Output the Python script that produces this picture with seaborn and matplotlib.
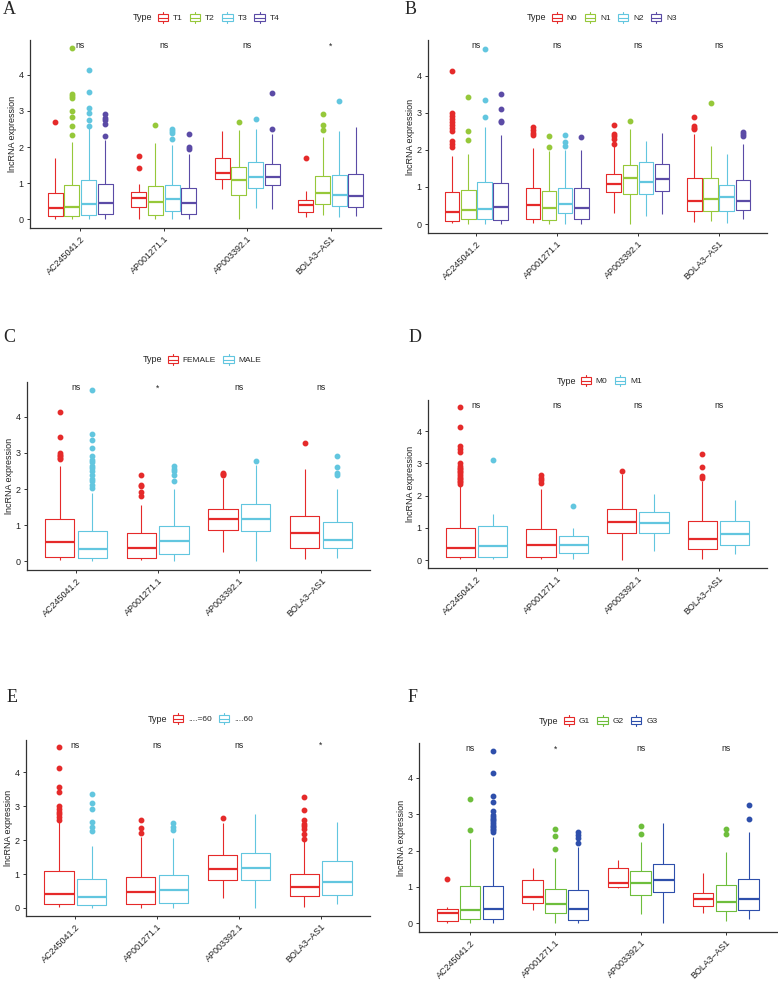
import pandas as pd
import matplotlib
matplotlib.use("Agg")
import matplotlib.pyplot as plt
from matplotlib.patches import Rectangle
from matplotlib.lines import Line2D
from matplotlib.legend_handler import HandlerBase
import seaborn as sns

genes = ["AC245041.2", "AP001271.1", "AP003392.1", "BOLA3\u2212AS1"]

# ---- panel A : T stage ----
A_groups = ["T1", "T2", "T3", "T4"]
A_colors = ["#E52A2A", "#96C83A", "#62C6DF", "#5B4BA6"]
A_sig = ["ns", "ns", "ns", "*"]
A_lo = [[0.02, 0.00, 0.00, 0.00], [0.02, 0.00, 0.00, 0.00], [0.84, 0.00, 0.31, 0.28], [0.06, 0.13, 0.06, 0.09]]
A_q1 = [[0.09, 0.08, 0.11, 0.16], [0.33, 0.11, 0.22, 0.16], [1.12, 0.67, 0.86, 0.94], [0.19, 0.42, 0.37, 0.33]]
A_med = [[0.31, 0.35, 0.43, 0.44], [0.58, 0.48, 0.56, 0.45], [1.28, 1.09, 1.16, 1.18], [0.39, 0.73, 0.68, 0.65]]
A_q3 = [[0.74, 0.94, 1.10, 0.98], [0.76, 0.91, 0.96, 0.86], [1.70, 1.46, 1.58, 1.52], [0.53, 1.19, 1.22, 1.25]]
A_hi = [[1.70, 2.15, 2.54, 2.19], [0.97, 2.10, 2.06, 1.80], [2.44, 2.47, 2.50, 2.37], [0.79, 2.27, 2.45, 2.55]]
A_out = [
    [[2.70], [2.34, 2.59, 2.83, 2.99, 3.35, 3.41, 3.46, 4.73], [2.59, 2.75, 2.93, 3.09, 3.51, 4.13], [2.31, 2.65, 2.75, 2.81, 2.92]],
    [[1.43, 1.76], [2.61], [2.21, 2.38, 2.44, 2.51], [1.95, 2.01, 2.35]],
    [[], [2.68], [2.78], [2.49, 3.49]],
    [[1.69], [2.46, 2.61, 2.90], [3.28], []],
]

# ---- panel B : N stage ----
B_groups = ["N0", "N1", "N2", "N3"]
B_colors = A_colors
B_sig = ["ns", "ns", "ns", "ns"]
B_lo = [[0.04, 0.00, 0.00, 0.00], [0.04, 0.00, 0.00, 0.00], [0.29, 0.00, 0.21, 0.27], [0.06, 0.07, 0.04, 0.13]]
B_q1 = [[0.09, 0.13, 0.14, 0.12], [0.13, 0.11, 0.29, 0.14], [0.86, 0.82, 0.80, 0.88], [0.36, 0.34, 0.34, 0.39]]
B_med = [[0.32, 0.39, 0.41, 0.47], [0.52, 0.43, 0.55, 0.43], [1.07, 1.23, 1.14, 1.21], [0.62, 0.68, 0.73, 0.63]]
B_q3 = [[0.87, 0.91, 1.14, 1.12], [0.97, 0.89, 0.98, 0.96], [1.36, 1.58, 1.66, 1.63], [1.23, 1.23, 1.06, 1.18]]
B_hi = [[1.83, 1.90, 2.62, 2.39], [2.06, 1.97, 1.99, 2.00], [2.10, 2.55, 2.24, 2.46], [2.44, 2.10, 1.89, 2.17]]
B_out = [
    [[2.08, 2.15, 2.24, 2.52, 2.60, 2.68, 2.75, 2.82, 2.90, 2.98, 4.12], [2.27, 2.51, 3.43], [2.89, 3.34, 4.72], [2.75, 2.78, 3.10, 3.50]],
    [[2.39, 2.46, 2.53, 2.61], [2.08, 2.37], [2.10, 2.22, 2.41], [2.34]],
    [[2.17, 2.28, 2.37, 2.44, 2.67], [2.78], [], []],
    [[2.55, 2.60, 2.64, 2.89], [3.27], [], [2.38, 2.42, 2.47]],
]

# ---- panel C : gender ----
C_groups = ["FEMALE", "MALE"]
C_colors = ["#E52A2A", "#62C6DF"]
C_sig = ["ns", "*", "ns", "ns"]
C_lo = [[0.05, 0.00], [0.05, 0.00], [0.27, 0.00], [0.06, 0.09]]
C_q1 = [[0.13, 0.10], [0.10, 0.20], [0.88, 0.83], [0.38, 0.36]]
C_med = [[0.54, 0.34], [0.38, 0.57], [1.16, 1.17], [0.79, 0.60]]
C_q3 = [[1.16, 0.84], [0.77, 0.98], [1.46, 1.59], [1.25, 1.10]]
C_hi = [[2.63, 1.89], [1.57, 2.00], [2.30, 2.67], [2.54, 2.00]]
C_out = [
    [[2.82, 2.86, 2.90, 2.95, 2.99, 3.43, 4.14],
     [2.03, 2.12, 2.22, 2.28, 2.40, 2.49, 2.58, 2.65, 2.74, 2.81, 2.92, 3.13, 3.36, 3.51, 4.73]],
    [[1.80, 1.91, 2.08, 2.12, 2.38], [2.23, 2.40, 2.49, 2.55, 2.63]],
    [[2.38, 2.41, 2.44], [2.78]],
    [[3.27], [2.40, 2.44, 2.62, 2.90]],
]

# ---- panel D : M stage ----
D_groups = ["M0", "M1"]
D_colors = C_colors
D_sig = ["ns", "ns", "ns", "ns"]
D_lo = [[0.03, 0.03], [0.03, 0.03], [0.00, 0.29], [0.05, 0.18]]
D_q1 = [[0.10, 0.10], [0.11, 0.23], [0.84, 0.84], [0.35, 0.48]]
D_med = [[0.37, 0.44], [0.48, 0.46], [1.17, 1.14], [0.66, 0.80]]
D_q3 = [[0.99, 1.05], [0.96, 0.75], [1.58, 1.48], [1.21, 1.21]]
D_hi = [[2.31, 1.44], [2.21, 0.99], [2.67, 2.05], [2.46, 1.87]]
D_out = [
    [[2.36, 2.41, 2.46, 2.51, 2.56, 2.61, 2.67, 2.72, 2.77, 2.82, 2.87, 2.93, 3.00, 3.35, 3.45, 3.54, 4.13, 4.74], [3.11]],
    [[2.39, 2.48, 2.56, 2.64], [1.67]],
    [[2.77], []],
    [[2.56, 2.62, 2.89, 3.28], []],
]

# ---- panel E : age ----
E_groups = ["....=60", "....60"]
E_colors = C_colors
E_sig = ["ns", "ns", "ns", "*"]
E_lo = [[0.02, 0.00], [0.00, 0.00], [0.30, 0.00], [0.04, 0.10]]
E_q1 = [[0.10, 0.09], [0.12, 0.15], [0.83, 0.83], [0.34, 0.39]]
E_med = [[0.40, 0.32], [0.46, 0.54], [1.14, 1.19], [0.61, 0.75]]
E_q3 = [[1.09, 0.84], [0.91, 0.96], [1.55, 1.63], [1.01, 1.38]]
E_hi = [[2.57, 1.82], [2.09, 2.07], [2.51, 2.77], [2.00, 2.54]]
E_out = [
    [[2.61, 2.69, 2.77, 2.83, 2.91, 3.00, 3.43, 3.56, 4.14, 4.74], [2.26, 2.39, 2.54, 2.93, 3.10, 3.36]],
    [[2.21, 2.36, 2.61], [2.29, 2.39, 2.51]],
    [[2.67], []],
    [[2.04, 2.19, 2.34, 2.41, 2.49, 2.61, 2.88, 3.28], []],
]

# ---- panel F : grade ----
F_groups = ["G1", "G2", "G3"]
F_colors = ["#E52A2A", "#6EBE3C", "#2E4FAB"]
F_sig = ["ns", "*", "ns", "ns"]
F_lo = [[0.02, 0.00, 0.00], [0.37, 0.00, 0.00], [0.97, 0.26, 0.00], [0.28, 0.05, 0.11]]
F_q1 = [[0.05, 0.13, 0.11], [0.57, 0.27, 0.09], [1.01, 0.79, 0.86], [0.47, 0.34, 0.37]]
F_med = [[0.29, 0.37, 0.40], [0.72, 0.53, 0.39], [1.11, 1.10, 1.19], [0.68, 0.59, 0.67]]
F_q3 = [[0.38, 1.03, 1.02], [1.19, 0.93, 0.91], [1.53, 1.44, 1.63], [0.84, 1.05, 1.23]]
F_hi = [[0.46, 2.33, 2.37], [1.51, 1.80, 2.10], [1.74, 2.24, 2.76], [1.39, 1.96, 2.50]]
F_out = [
    [[1.23], [2.58, 3.43],
     [2.51, 2.56, 2.60, 2.65, 2.69, 2.74, 2.79, 2.84, 2.88, 2.93, 2.97, 3.10, 3.33, 3.50, 4.13, 4.73]],
    [[], [2.05, 2.40, 2.60], [2.21, 2.35, 2.42, 2.51]],
    [[], [2.45, 2.67], []],
    [[], [2.45, 2.60], [2.88, 3.26]],
]

W, H = 778, 982


def expand(lo, q1, med, q3, hi, out):
    # pseudo samples that reproduce the read-off box statistics exactly
    k = len(out) + 2
    return [lo] + [q1] * k + [med] * k + [q3] * k + [hi] + list(out)


class BoxKey(HandlerBase):
    def create_artists(self, legend, orig_handle, xdescent, ydescent, width, height, fontsize, trans):
        c = orig_handle.get_color()
        x0, y0 = -xdescent, -ydescent
        rect = Rectangle((x0 + width * 0.05, y0 + height * 0.1), width * 0.9, height * 0.8,
                         fill=False, edgecolor=c, lw=0.8, transform=trans)
        med = Line2D([x0 + width * 0.05, x0 + width * 0.95], [y0 + height / 2] * 2, color=c, lw=0.8, transform=trans)
        top = Line2D([x0 + width / 2] * 2, [y0 + height * 0.9, y0 + height * 1.15], color=c, lw=0.8, transform=trans)
        bot = Line2D([x0 + width / 2] * 2, [y0 + height * 0.1, y0 - height * 0.15], color=c, lw=0.8, transform=trans)
        return [rect, med, top, bot]


sns.set_style("ticks")
plt.rcParams["font.family"] = ["Liberation Sans", "DejaVu Sans"]
fig = plt.figure(figsize=(W / 100, H / 100), dpi=100)


def draw_panel(letter, groups, colors, sig, lo, q1, med, q3, hi, out, box, leg_y, type_x, key_x, letter_xy):
    rows = []
    for gi, gene in enumerate(genes):
        for ti, grp in enumerate(groups):
            for v in expand(lo[gi][ti], q1[gi][ti], med[gi][ti], q3[gi][ti], hi[gi][ti], out[gi][ti]):
                rows.append((gene, grp, v))
    df = pd.DataFrame(rows, columns=["gene", "Type", "value"])

    l, t, r, b = box
    ax = fig.add_axes([l / W, 1 - b / H, (r - l) / W, (b - t) / H])
    sns.boxplot(data=df, x="gene", y="value", hue="Type", order=genes, hue_order=groups,
                palette=colors, fill=False, width=0.8, gap=0.1, linewidth=0.8, fliersize=3.2,
                showcaps=False, flierprops={"marker": "o"}, medianprops={"linewidth": 1.6},
                legend=False, ax=ax)
    for ln in ax.lines:
        if ln.get_marker() == "o":
            ln.set_markerfacecolor(ln.get_markeredgecolor())

    ax.set_xlim(-0.6, 3.6)
    ax.set_ylim(-0.24, 4.96)
    ax.set_yticks([0, 1, 2, 3, 4])
    ax.set_xticks(range(len(genes)))
    ax.set_xticklabels(genes, rotation=45, ha="right", rotation_mode="anchor")
    ax.set_xlabel("")
    ax.set_ylabel("lncRNA expression", fontsize=6.5, labelpad=1.5, color="#222222")
    ax.tick_params(labelsize=6.5, length=2.5, width=0.7, color="#333333", labelcolor="#222222", pad=2)
    for s in ["top", "right"]:
        ax.spines[s].set_visible(False)
    for s in ["left", "bottom"]:
        ax.spines[s].set_linewidth(0.9)
        ax.spines[s].set_color("#333333")

    for i, s in enumerate(sig):
        ax.text(i, 4.8, s, ha="center", va="center", fontsize=6.2, color="#222222")

    handles = [Line2D([], [], color=c) for c in colors]
    fig.legend(handles, groups, loc="center left", bbox_to_anchor=(key_x / W, 1 - leg_y / H),
               ncol=len(groups), frameon=False, fontsize=6, handler_map={Line2D: BoxKey()},
               handlelength=1.4, handleheight=1.1, handletextpad=0.5, columnspacing=0.8,
               borderpad=0, borderaxespad=0)
    fig.text(type_x / W, 1 - leg_y / H, "Type", ha="left", va="center", fontsize=6.5, color="#222222")
    fig.text(letter_xy[0] / W, 1 - letter_xy[1] / H, letter, ha="left", va="center",
             fontsize=13, family="Liberation Serif")


draw_panel("A", A_groups, A_colors, A_sig, A_lo, A_q1, A_med, A_q3, A_hi, A_out,
           (30, 40, 381, 228), 18, 133, 157, (3, 9))
draw_panel("B", B_groups, B_colors, B_sig, B_lo, B_q1, B_med, B_q3, B_hi, B_out,
           (428, 40, 767, 233), 18, 527, 551, (405, 9))
draw_panel("C", C_groups, C_colors, C_sig, C_lo, C_q1, C_med, C_q3, C_hi, C_out,
           (27, 382, 370, 570), 360, 143, 167, (3, 337))
draw_panel("D", D_groups, D_colors, D_sig, D_lo, D_q1, D_med, D_q3, D_hi, D_out,
           (428, 400, 767, 568), 381, 557, 580, (409, 338))
draw_panel("E", E_groups, E_colors, E_sig, E_lo, E_q1, E_med, E_q3, E_hi, E_out,
           (26, 740, 370, 916), 719, 148, 172, (7, 698))
draw_panel("F", F_groups, F_colors, F_sig, F_lo, F_q1, F_med, F_q3, F_hi, F_out,
           (419, 743, 777, 932), 721, 539, 563, (408, 697))

fig.savefig("out.png", dpi=100)
